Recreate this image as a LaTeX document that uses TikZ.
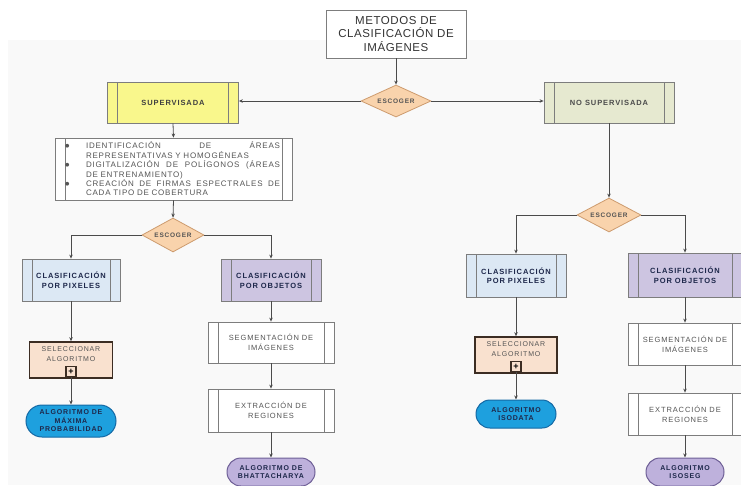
\documentclass[tikz,border=0pt]{standalone}
\usepackage{fontspec}
\setmainfont{Liberation Sans}
\newfontfamily\spc[LetterSpace=12]{Liberation Sans}
\newfontfamily\spt[LetterSpace=5]{Liberation Sans}
\newfontfamily\spb[LetterSpace=10]{Liberation Sans}
\newfontfamily\dejavu{DejaVu Sans}
\usetikzlibrary{shapes.geometric,shapes.misc,arrows.meta}
\definecolor{boxline}{RGB}{125,125,125}
\definecolor{conn}{RGB}{75,75,75}
\definecolor{yel}{RGB}{249,247,140}
\definecolor{olive}{RGB}{230,233,208}
\definecolor{peach}{RGB}{249,211,172}
\definecolor{peachline}{RGB}{205,155,110}
\definecolor{lblue}{RGB}{220,232,244}
\definecolor{lav}{RGB}{205,197,225}
\definecolor{selfill}{RGB}{249,225,207}
\definecolor{selline}{RGB}{60,45,35}
\definecolor{bluefill}{RGB}{30,160,222}
\definecolor{blueline}{RGB}{20,105,165}
\definecolor{lavfill}{RGB}{190,177,220}
\definecolor{lavline}{RGB}{110,95,150}
\definecolor{navy}{RGB}{30,40,75}
\definecolor{txtgray}{RGB}{85,85,85}
\newcommand{\bul}{\makebox[31pt][l]{\hspace*{10pt}\raisebox{1pt}{\dejavu\fontsize{5}{5}\selectfont ●}}}
\begin{document}
\begin{tikzpicture}[x=1pt,y=-1pt,
  proc/.style={rectangle, draw=boxline, line width=0.8pt, align=center, inner sep=1pt,
    font=\spc\fontsize{7.5}{9.5}\selectfont\bfseries, text=navy,
    path picture={\draw[boxline, line width=0.8pt]
      ([xshift=10pt]path picture bounding box.north west) -- ([xshift=10pt]path picture bounding box.south west)
      ([xshift=-10pt]path picture bounding box.north east) -- ([xshift=-10pt]path picture bounding box.south east);}},
  wproc/.style={proc, fill=white, font=\spc\fontsize{7.5}{10}\selectfont, text=txtgray},
  choice/.style={diamond, aspect=2, draw=peachline, fill=peach, line width=0.8pt, inner sep=0pt,
    font=\spc\fontsize{6.5}{8}\selectfont\bfseries, text=txtgray},
  selbox/.style={rectangle, draw=selline, line width=1.6pt, fill=selfill},
  seltext/.style={font=\spc\fontsize{7}{10.5}\selectfont, text=txtgray, align=center, inner sep=0pt},
  plusbox/.style={rectangle, draw=selline, line width=1.2pt, fill=selfill, inner sep=0pt,
    minimum width=10pt, minimum height=10pt, font=\fontsize{9}{9}\selectfont\bfseries},
  term/.style={rounded rectangle, line width=1pt, align=center, inner sep=1pt,
    font=\spc\fontsize{7}{8.5}\selectfont\bfseries, text=navy},
  arr/.style={draw=conn, line width=0.8pt, -{Stealth[length=4pt,width=3.5pt]}},
  ln/.style={draw=conn, line width=0.8pt}
]
\useasboundingbox (0,0) rectangle (741,485);
\fill[black!2.5] (8,40) rectangle (741,485);

% top
\node[rectangle, draw=boxline, line width=0.8pt, fill=white, minimum width=140pt, minimum height=48pt,
  align=center, inner sep=0pt, font=\spt\fontsize{11.5}{13.5}\selectfont, text=black!80] (title) at (396,34)
  {METODOS DE\\CLASIFICACIÓN DE\\IMÁGENES};
\node[choice, minimum width=70pt, minimum height=32pt] (esc1) at (396,101) {ESCOGER};
\node[proc, fill=yel, text=black!75, minimum width=131pt, minimum height=41pt] (sup) at (173,102.5) {SUPERVISADA};
\node[proc, fill=olive, text=black!70, minimum width=130pt, minimum height=41pt] (nosup) at (609,102.5) {NO SUPERVISADA};

% bullets
\node[rectangle, draw=boxline, line width=0.8pt, fill=white, minimum width=237pt, minimum height=62pt,
  text width=237pt, inner xsep=0pt, inner ysep=0pt, align=left,
  font=\spb\fontsize{8}{9.4}\selectfont, text=txtgray,
  path picture={\draw[boxline, line width=0.8pt]
      ([xshift=10pt]path picture bounding box.north west) -- ([xshift=10pt]path picture bounding box.south west)
      ([xshift=-10pt]path picture bounding box.north east) -- ([xshift=-10pt]path picture bounding box.south east);}]
  (bul) at (173.5,169)
  {\bul\makebox[194pt][l]{IDENTIFICACIÓN\hfill DE\hfill ÁREAS}\\
   \hspace*{31pt}REPRESENTATIVAS Y HOMOGÉNEAS\\
   \bul\makebox[194pt][l]{DIGITALIZACIÓN\hfill DE\hfill POLÍGONOS\hfill (ÁREAS}\\
   \hspace*{31pt}DE ENTRENAMIENTO)\\
   \bul\makebox[194pt][l]{CREACIÓN\hfill DE\hfill FIRMAS\hfill ESPECTRALES\hfill DE}\\
   \hspace*{31pt}CADA TIPO DE COBERTURA};

% left branch
\node[choice, minimum width=62pt, minimum height=34pt] (esc2) at (173,235) {ESCOGER};
\node[proc, fill=lblue, minimum width=98pt, minimum height=42pt] (pixL) at (71,280) {CLASIFICACIÓN\\POR PIXELES};
\node[proc, fill=lav, minimum width=100pt, minimum height=42pt] (objL) at (271,280) {CLASIFICACIÓN\\POR OBJETOS};
\node[selbox, minimum width=83pt, minimum height=36pt] (selL) at (71,360) {};
\node[seltext, below=5pt] (selLt) at (selL.north) {SELECCIONAR\\ALGORITMO};
\node[plusbox, anchor=south] (plusL) at ([yshift=1.5pt]selL.south) {+};
\node[term, draw=blueline, fill=bluefill, minimum width=92pt, minimum height=32pt] (algL) at (71,421)
  {ALGORITMO DE\\MÁXIMA\\PROBABILIDAD};
\node[wproc, minimum width=126pt, minimum height=41pt] (segL) at (271,342.5) {SEGMENTACIÓN DE\\IMÁGENES};
\node[wproc, minimum width=126pt, minimum height=43pt] (extL) at (271,410.5) {EXTRACCIÓN DE\\REGIONES};
\node[term, draw=lavline, fill=lavfill, minimum width=90pt, minimum height=28pt] (bhat) at (271,472)
  {ALGORITMO DE\\BHATTACHARYA};

% right branch
\node[choice, minimum width=64pt, minimum height=34pt] (esc3) at (609,215) {ESCOGER};
\node[proc, fill=lblue, minimum width=100pt, minimum height=43pt] (pixR) at (516,275.5) {CLASIFICACIÓN\\POR PIXELES};
\node[proc, fill=lav, minimum width=114pt, minimum height=44pt] (objR) at (685,275) {CLASIFICACIÓN\\POR OBJETOS};
\node[selbox, minimum width=82pt, minimum height=36pt] (selR) at (516,355) {};
\node[seltext, below=5pt] (selRt) at (selR.north) {SELECCIONAR\\ALGORITMO};
\node[plusbox, anchor=south] (plusR) at ([yshift=1.5pt]selR.south) {+};
\node[term, draw=blueline, fill=bluefill, minimum width=82pt, minimum height=28pt] (iso) at (516,414)
  {ALGORITMO\\ISODATA};
\node[wproc, minimum width=114pt, minimum height=42pt] (segR) at (685,344) {SEGMENTACIÓN DE\\IMÁGENES};
\node[wproc, minimum width=114pt, minimum height=42pt] (extR) at (685,414) {EXTRACCIÓN DE\\REGIONES};
\node[term, draw=lavline, fill=lavfill, minimum width=80pt, minimum height=28pt] (isoseg) at (685,472)
  {ALGORITMO\\ISOSEG};

% connectors
\draw[arr] (title.south) -- (esc1.north);
\draw[arr] (esc1.west) -- (esc1.west -| sup.east);
\draw[arr] (esc1.east) -- (esc1.east -| nosup.west);
\draw[arr] (sup.south) -- (bul.north);
\draw[arr] (bul.south) -- (esc2.north);
\draw[arr] (esc2.west) -| (pixL.north);
\draw[arr] (esc2.east) -| (objL.north);
\draw[arr] (pixL.south) -- (selL.north);
\draw[arr] (plusL.south) -- (algL.north);
\draw[arr] (objL.south) -- (segL.north);
\draw[arr] (segL.south) -- (extL.north);
\draw[arr] (extL.south) -- (bhat.north);
\draw[arr] (nosup.south) -- (esc3.north);
\draw[arr] (esc3.west) -| (pixR.north);
\draw[arr] (esc3.east) -| (objR.north);
\draw[arr] (pixR.south) -- (selR.north);
\draw[arr] (plusR.south) -- (iso.north);
\draw[arr] (objR.south) -- (segR.north);
\draw[arr] (segR.south) -- (extR.north);
\draw[arr] (extR.south) -- (isoseg.north);
\end{tikzpicture}
\end{document}
